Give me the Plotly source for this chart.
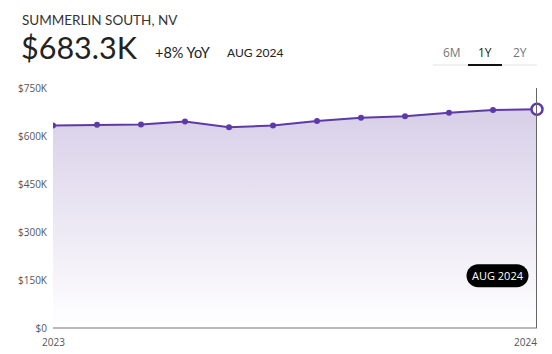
import plotly.graph_objects as go

# ---- data ----
months = ["Sep 2023", "Oct 2023", "Nov 2023", "Dec 2023", "Jan 2024", "Feb 2024",
          "Mar 2024", "Apr 2024", "May 2024", "Jun 2024", "Jul 2024", "Aug 2024"]
values = [633000, 635000, 636000, 645000, 627000, 633000, 647000, 657000, 662000, 673000, 681000, 683300]
y_ticks = [0, 150000, 300000, 450000, 600000, 750000]
y_tick_labels = ["$0", "$150K", "$300K", "$450K", "$600K", "$750K"]
x_labels = ["2023", "2024"]

W, H = 552, 354
L, R, T, B = 53, 15, 88, 26
PW, PH = W - L - R, H - T - B

def px(x):
    return (x - L) / PW

def py(y):
    return (H - B - y) / PH

LINE = "#5e3aa9"
FONT = "Lato, 'Open Sans', sans-serif"
xs = list(range(len(values)))

fig = go.Figure()
fig.add_trace(go.Scatter(
    x=xs, y=values, mode="lines",
    line=dict(color=LINE, width=2),
    fill="tozeroy",
    fillgradient=dict(type="vertical",
                      colorscale=[[0, "rgba(255,255,255,1)"], [1, "rgba(216,207,232,1)"]]),
    hoverinfo="skip", showlegend=False,
))
fig.add_trace(go.Scatter(
    x=xs[:-1], y=values[:-1], mode="markers",
    marker=dict(color=LINE, size=6),
    hoverinfo="skip", showlegend=False,
))
# vertical cursor line at last point
fig.add_shape(type="line", xref="x", yref="paper", x0=xs[-1], x1=xs[-1], y0=0, y1=1,
              line=dict(color="#666666", width=2), layer="above")
fig.add_trace(go.Scatter(
    x=[xs[-1]], y=[values[-1]], mode="markers",
    marker=dict(color="white", size=11, line=dict(color=LINE, width=2.5)),
    hoverinfo="skip", showlegend=False, cliponaxis=False,
))

# bottom axis line
fig.add_shape(type="line", xref="paper", yref="paper", x0=0, x1=1, y0=0, y1=0,
              line=dict(color="#777777", width=1.2), layer="above")

# pill badge
pill_x = xs[-1] - (537 - 497.5) / (PW / (len(xs) - 1))
pill_y = 750000 * (H - B - 275.7) / PH
w2, h2 = 31, 11.5
r = h2
path = (f"M {-w2 + r},{-h2} L {w2 - r},{-h2} C {w2 - r + r*0.55},{-h2} {w2},{-h2*0.55} {w2},0 "
        f"C {w2},{h2*0.55} {w2 - r + r*0.55},{h2} {w2 - r},{h2} L {-w2 + r},{h2} "
        f"C {-w2 + r - r*0.55},{h2} {-w2},{h2*0.55} {-w2},0 "
        f"C {-w2},{-h2*0.55} {-w2 + r - r*0.55},{-h2} {-w2 + r},{-h2} Z")
fig.add_shape(type="path", xref="x", yref="y", xsizemode="pixel", ysizemode="pixel",
              xanchor=pill_x, yanchor=pill_y, path=path,
              fillcolor="black", line=dict(width=0), layer="above")
fig.add_annotation(x=pill_x, y=pill_y, xref="x", yref="y", text=months[-1].upper(),
                   showarrow=False, font=dict(family="'Open Sans', sans-serif", size=11, color="white"))

# x labels
fig.add_annotation(x=xs[0], y=py(341.5), xref="x", yref="paper", text=x_labels[0],
                   showarrow=False, xanchor="center", yanchor="middle",
                   font=dict(family="'Open Sans', sans-serif", size=10, color="#555"))
fig.add_annotation(x=xs[-1], y=py(341.5), xref="x", yref="paper", text=x_labels[1],
                   showarrow=False, xanchor="right", yanchor="middle", xshift=2,
                   font=dict(family="'Open Sans', sans-serif", size=10, color="#555"))

# header
fig.add_annotation(x=px(20), y=py(20), xref="paper", yref="paper", text="SUMMERLIN SOUTH, NV",
                   showarrow=False, xanchor="left", yanchor="middle",
                   font=dict(family=FONT, size=13.5, color="#333"))
fig.add_annotation(x=px(19), y=py(46.5), xref="paper", yref="paper", text="$683.3K",
                   showarrow=False, xanchor="left", yanchor="middle",
                   font=dict(family=FONT, size=30.5, color="#222"))
fig.add_annotation(x=px(153), y=py(52), xref="paper", yref="paper", text="+8% YoY",
                   showarrow=False, xanchor="left", yanchor="middle",
                   font=dict(family=FONT, size=14.5, color="#222"))
fig.add_annotation(x=px(225), y=py(52.5), xref="paper", yref="paper", text="AUG 2024",
                   showarrow=False, xanchor="left", yanchor="middle",
                   font=dict(family=FONT, size=12, color="#222"))

# tabs
for label, cx, col in [("6M", 451.5, "#777"), ("1Y", 485, "#222"), ("2Y", 519.5, "#777")]:
    fig.add_annotation(x=px(cx), y=py(52), xref="paper", yref="paper", text=label,
                       showarrow=False, xanchor="center", yanchor="middle",
                       font=dict(family="'Open Sans', sans-serif", size=12, color=col))
fig.add_shape(type="line", xref="paper", yref="paper", x0=px(433), x1=px(537), y0=py(65), y1=py(65),
              line=dict(color="#e2e2e2", width=1))
fig.add_shape(type="line", xref="paper", yref="paper", x0=px(468), x1=px(502), y0=py(65), y1=py(65),
              line=dict(color="#111", width=2))

fig.update_xaxes(range=[xs[0], xs[-1]], showgrid=False, zeroline=False, showticklabels=False,
                 showline=False, fixedrange=True)
fig.update_yaxes(range=[0, 750000], tickvals=y_ticks, ticktext=y_tick_labels,
                 showgrid=True, gridcolor="#d0d0d0", griddash="3px,3px", gridwidth=1,
                 zeroline=False, showline=False, ticks="", ticklabelstandoff=5,
                 tickfont=dict(family="'Open Sans', sans-serif", size=10, color="#555"),
                 fixedrange=True)
fig.update_layout(
    width=W, height=H,
    margin=dict(l=L, r=R, t=T, b=B),
    paper_bgcolor="white", plot_bgcolor="white",
    showlegend=False,
)
fig.write_html("out.html", config={"displayModeBar": False, "staticPlot": True})
